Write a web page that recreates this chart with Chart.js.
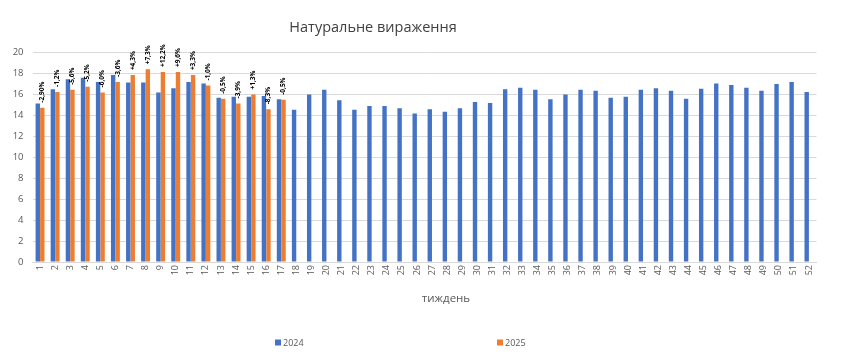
<!DOCTYPE html>
<html>
<head>
<meta charset="utf-8">
<script src="https://cdn.jsdelivr.net/npm/chart.js@4/dist/chart.umd.min.js"></script>
<style>
  html, body { margin: 0; padding: 0; background: #ffffff; }
  #wrap { position: relative; width: 850px; height: 357px; overflow: hidden; font-family: "Open Sans", "Noto Sans", sans-serif; }
  #c { position: absolute; left: 0; top: 0; }
  .txt { position: absolute; white-space: nowrap; color: #595959; }
  #title { left: 373px; top: 26px; transform: translate(-50%, -50%); font-size: 14.5px; color: #404040; }
  #xtitle { left: 446px; top: 297px; transform: translate(-50%, -50%); font-size: 11.5px; }
  .leg { top: 342px; transform: translateY(-50%); font-size: 9px; display: flex; align-items: center; }
  .sw { display: inline-block; width: 6px; height: 6px; margin-right: 2px; }
</style>
</head>
<body>
<div id="wrap">
  <canvas id="c" width="850" height="357"></canvas>
  <div id="title" class="txt">Натуральне вираження</div>
  <div id="xtitle" class="txt">тиждень</div>
  <div class="txt leg" style="left:275px;"><span class="sw" style="background:#4472C4"></span>2024</div>
  <div class="txt leg" style="left:497px;"><span class="sw" style="background:#ED7D31"></span>2025</div>
</div>
<script>
const weeks = Array.from({length: 52}, (_, i) => String(i + 1));
const values2024 = [15.1, 16.45, 17.4, 17.55, 17.15, 17.8, 17.1, 17.1, 16.15, 16.55, 17.15, 17.0, 15.65, 15.75, 15.75, 15.8, 15.5, 14.5,
  15.95, 16.4, 15.4, 14.5, 14.85, 14.85, 14.65, 14.15, 14.55, 14.3, 14.65, 15.25, 15.15, 16.45, 16.6, 16.4, 15.5, 15.95,
  16.4, 16.3, 15.65, 15.75, 16.4, 16.55, 16.3, 15.55, 16.5, 17.0, 16.85, 16.6, 16.3, 16.95, 17.15, 16.2];
const values2025 = [14.7, 16.2, 16.4, 16.7, 16.15, 17.15, 17.8, 18.35, 18.1, 18.1, 17.8, 16.8, 15.55, 15.1, 15.95, 14.55, 15.45];
const changeLabels = ["-2,90%", "-1,2%", "-5,6%", "-5,2%", "-6,0%", "-3,6%", "+4,3%", "+7,3%", "+12,2%", "+9,6%", "+3,3%", "-1,0%", "-0,5%", "-3,9%", "+1,3%", "-8,3%", "-0,5%"];
const yTicks = [0, 2, 4, 6, 8, 10, 12, 14, 16, 18, 20];

const labelPlugin = {
  id: 'changeLabels',
  afterDatasetsDraw(chart) {
    const meta = chart.getDatasetMeta(1);
    const ctx = chart.ctx;
    ctx.save();
    ctx.fillStyle = '#000000';
    ctx.font = 'bold 6.5px "Open Sans", sans-serif';
    ctx.textAlign = 'left';
    ctx.textBaseline = 'middle';
    changeLabels.forEach((t, i) => {
      const el = meta.data[i];
      if (!el) return;
      ctx.save();
      ctx.translate(el.x, el.y - 5);
      ctx.rotate(-Math.PI / 2);
      ctx.fillText(t, 0, 0);
      ctx.restore();
    });
    ctx.restore();
  }
};

new Chart(document.getElementById('c'), {
  type: 'bar',
  data: {
    labels: weeks,
    datasets: [
      { label: '2024', data: values2024, backgroundColor: '#4472C4', categoryPercentage: 0.6, barPercentage: 0.97 },
      { label: '2025', data: values2025, backgroundColor: '#ED7D31', categoryPercentage: 0.6, barPercentage: 0.97 }
    ]
  },
  options: {
    responsive: false,
    animation: false,
    devicePixelRatio: 1,
    layout: { padding: { top: 52, left: 0, right: 33.5, bottom: 60 } },
    plugins: { legend: { display: false }, title: { display: false }, tooltip: { enabled: false } },
    scales: {
      x: {
        grid: { display: false, drawTicks: false },
        border: { display: true, color: '#d9d9d9' },
        ticks: { color: '#595959', font: { size: 9, family: '"Open Sans", sans-serif' }, minRotation: 90, maxRotation: 90, autoSkip: false, padding: 3 },
        afterFit(s) { s.height = 35; }
      },
      y: {
        min: 0, max: 20,
        afterBuildTicks(s) { s.ticks = yTicks.map(v => ({ value: v })); },
        grid: { color: '#d9d9d9', drawTicks: false },
        border: { display: false },
        ticks: { color: '#595959', font: { size: 9.5, family: '"Open Sans", sans-serif' }, padding: 9 },
        afterFit(s) { s.width = 32.5; }
      }
    }
  },
  plugins: [labelPlugin]
});
</script>
</body>
</html>
